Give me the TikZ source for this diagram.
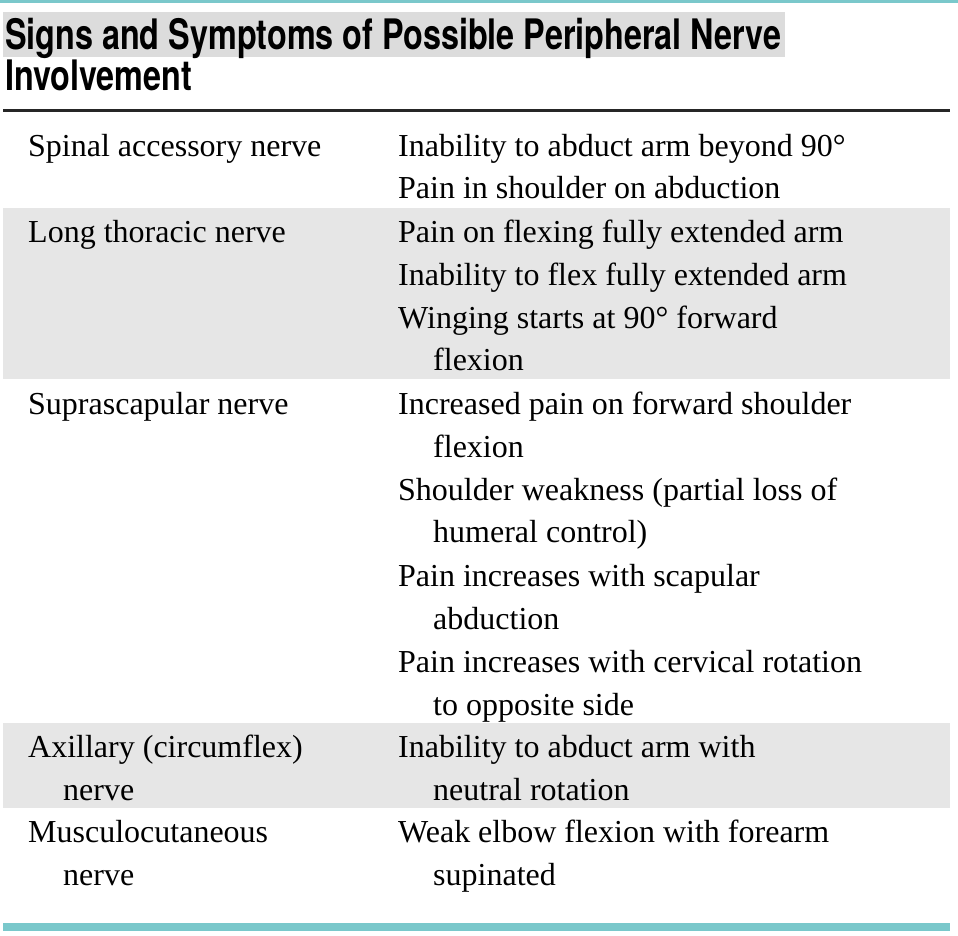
\documentclass[tikz,border=0pt]{standalone}
\usepackage{fontspec}
\setmainfont{Liberation Serif}
\newfontfamily\titlefont[FakeStretch=0.77]{TeX Gyre Heros Bold}
\definecolor{teal1}{HTML}{7AC8CB}
\definecolor{rowgray}{HTML}{E6E6E6}
\definecolor{titlegray}{HTML}{DCDCDC}
\begin{document}
\begin{tikzpicture}[x=1pt,y=-1pt,
  cell/.style={anchor=base west,inner sep=0pt,font=\fontsize{32}{32}\selectfont},
  ttl/.style={anchor=base west,inner sep=0pt,font=\titlefont\fontsize{42}{42}\selectfont}]
\useasboundingbox (0,0) rectangle (958,936);
\fill[teal1] (0,0) rectangle (958,3);
\fill[titlegray] (3,12) rectangle (785,57);
\node[ttl] (t1) at (5,50) {Signs and Symptoms of Possible Peripheral Nerve};
\node[ttl] (t2) at (5,91) {Involvement};
\fill[black!85] (3,109.5) rectangle (950,112);
\fill[rowgray] (3,208) rectangle (950,379);
\fill[rowgray] (3,723) rectangle (950,808);
\fill[teal1] (3,923) rectangle (950,931);
% col 1
\node[cell] (a1) at (28,157) {Spinal accessory nerve};
\node[cell] (a2) at (28,242) {Long thoracic nerve};
\node[cell] (a3) at (28,414) {Suprascapular nerve};
\node[cell] (a4) at (28,757) {Axillary (circumflex)};
\node[cell] (a4b) at (63,800) {nerve};
\node[cell] (a5) at (28,842) {Musculocutaneous};
\node[cell] (a5b) at (63,885) {nerve};
% col 2
\node[cell] (b1) at (398,157) {Inability to abduct arm beyond 90°};
\node[cell] (b2) at (398,199) {Pain in shoulder on abduction};
\node[cell] (b3) at (398,242) {Pain on flexing fully extended arm};
\node[cell] (b4) at (398,285) {Inability to flex fully extended arm};
\node[cell] (b5) at (398,328) {Winging starts at 90° forward};
\node[cell] (b5b) at (433,370) {flexion};
\node[cell] (b6) at (398,414) {Increased pain on forward shoulder};
\node[cell] (b6b) at (433,457) {flexion};
\node[cell] (b7) at (398,500) {Shoulder weakness (partial loss of};
\node[cell] (b7b) at (433,542) {humeral control)};
\node[cell] (b8) at (398,586) {Pain increases with scapular};
\node[cell] (b8b) at (433,629) {abduction};
\node[cell] (b9) at (398,672) {Pain increases with cervical rotation};
\node[cell] (b9b) at (433,715) {to opposite side};
\node[cell] (b10) at (398,757) {Inability to abduct arm with};
\node[cell] (b10b) at (433,800) {neutral rotation};
\node[cell] (b11) at (398,842) {Weak elbow flexion with forearm};
\node[cell] (b11b) at (433,885) {supinated};
\end{tikzpicture}
\end{document}
